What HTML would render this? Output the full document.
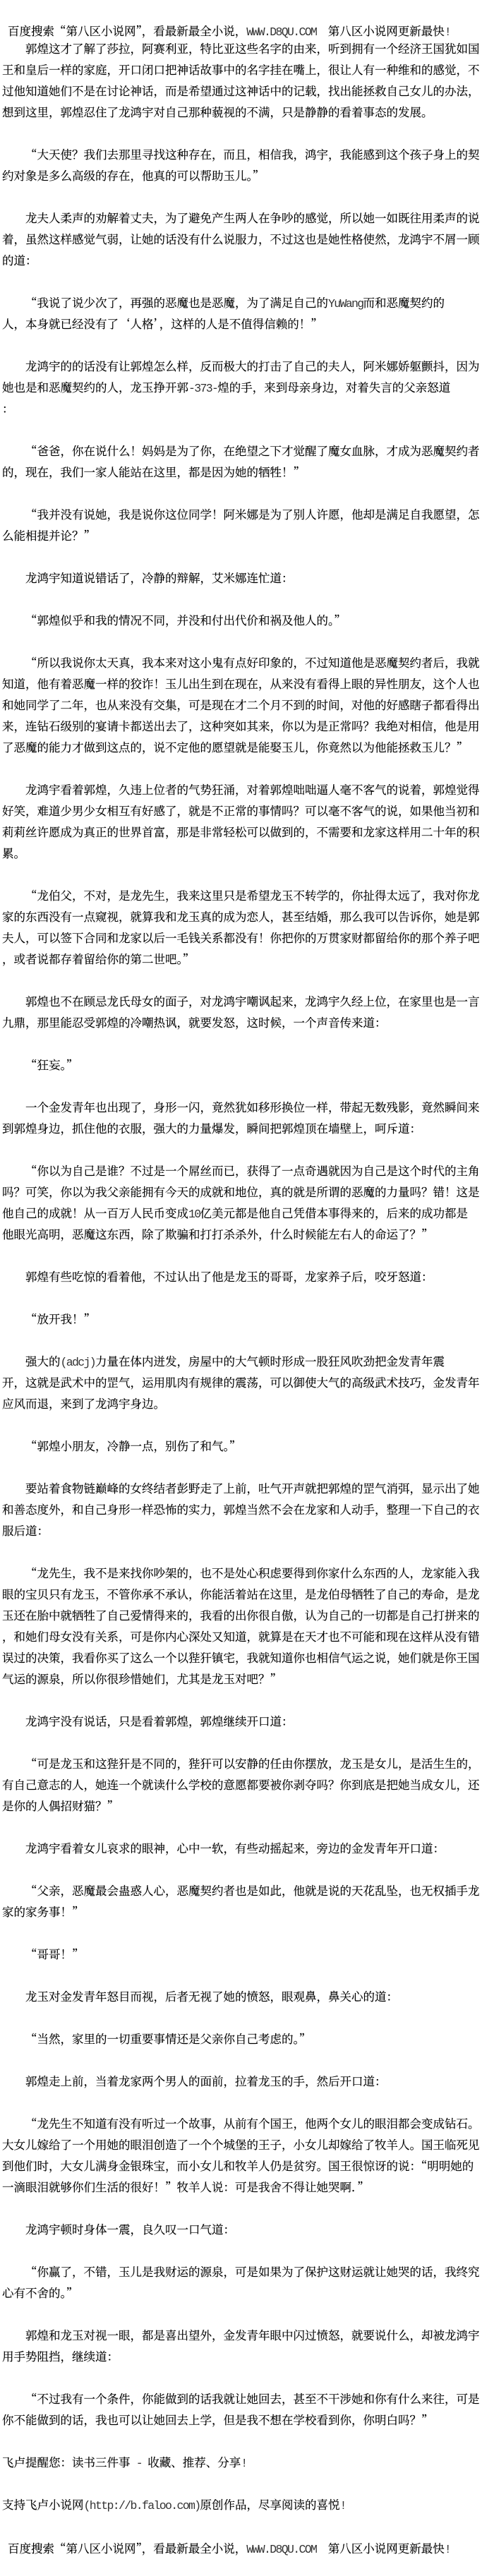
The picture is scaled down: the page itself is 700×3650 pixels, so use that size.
<!DOCTYPE html>
<html lang="zh-CN">
<head>
<meta charset="utf-8">
<title>第八区小说网</title>
<style>
html,body{margin:0;padding:0;background:#fff;}
body{position:relative;width:700px;height:3650px;overflow:hidden;color:#000;
font-family:"Noto Serif CJK SC","Noto Sans CJK SC",serif;font-size:16.5px;line-height:30px;-webkit-text-stroke:0.15px #000;}
#t{position:absolute;left:3px;top:53px;width:697px;}
#t div{height:30px;white-space:pre;}
#t .i{padding-left:33px;}
.h{position:absolute;left:11px;height:30px;white-space:pre;}
.l{font-family:"Liberation Mono",monospace;letter-spacing:-1.65px;color:#333;-webkit-text-stroke:0;}
</style>
</head>
<body>
<div class="h" style="top:28px">百度搜索“第八区小说网”，看最新最全小说，<span class="l">WWW.D8QU.COM  </span>第八区小说网更新最快<span class="l">!</span></div>
<div id="t">
<div class="i">郭煌这才了解了莎拉，阿赛利亚，特比亚这些名字的由来，听到拥有一个经济王国犹如国</div>
<div>王和皇后一样的家庭，开口闭口把神话故事中的名字挂在嘴上，很让人有一种维和的感觉，不</div>
<div>过他知道她们不是在讨论神话，而是希望通过这神话中的记载，找出能拯救自己女儿的办法，</div>
<div>想到这里，郭煌忍住了龙鸿宇对自己那种藐视的不满，只是静静的看着事态的发展。</div>
<div></div>
<div class="i">“大天使？我们去那里寻找这种存在，而且，相信我，鸿宇，我能感到这个孩子身上的契</div>
<div>约对象是多么高级的存在，他真的可以帮助玉儿。”</div>
<div></div>
<div class="i">龙夫人柔声的劝解着丈夫，为了避免产生两人在争吵的感觉，所以她一如既往用柔声的说</div>
<div>着，虽然这样感觉气弱，让她的话没有什么说服力，不过这也是她性格使然，龙鸿宇不屑一顾</div>
<div>的道：</div>
<div></div>
<div class="i">“我说了说少次了，再强的恶魔也是恶魔，为了满足自己的<span class="l">YuWang</span>而和恶魔契约的</div>
<div>人，本身就已经没有了‘人格’，这样的人是不值得信赖的！”</div>
<div></div>
<div class="i">龙鸿宇的的话没有让郭煌怎么样，反而极大的打击了自己的夫人，阿米娜娇躯颤抖，因为</div>
<div>她也是和恶魔契约的人，龙玉挣开郭<span class="l">-373-</span>煌的手，来到母亲身边，对着失言的父亲怒道</div>
<div>：</div>
<div></div>
<div class="i">“爸爸，你在说什么！妈妈是为了你，在绝望之下才觉醒了魔女血脉，才成为恶魔契约者</div>
<div>的，现在，我们一家人能站在这里，都是因为她的牺牲！”</div>
<div></div>
<div class="i">“我并没有说她，我是说你这位同学！阿米娜是为了别人许愿，他却是满足自我愿望，怎</div>
<div>么能相提并论？”</div>
<div></div>
<div class="i">龙鸿宇知道说错话了，冷静的辩解，艾米娜连忙道：</div>
<div></div>
<div class="i">“郭煌似乎和我的情况不同，并没和付出代价和祸及他人的。”</div>
<div></div>
<div class="i">“所以我说你太天真，我本来对这小鬼有点好印象的，不过知道他是恶魔契约者后，我就</div>
<div>知道，他有着恶魔一样的狡诈！玉儿出生到在现在，从来没有看得上眼的异性朋友，这个人也</div>
<div>和她同学了二年，也从来没有交集，可是现在才二个月不到的时间，对他的好感瞎子都看得出</div>
<div>来，连钻石级别的宴请卡都送出去了，这种突如其来，你以为是正常吗？我绝对相信，他是用</div>
<div>了恶魔的能力才做到这点的，说不定他的愿望就是能娶玉儿，你竟然以为他能拯救玉儿？”</div>
<div></div>
<div class="i">龙鸿宇看着郭煌，久违上位者的气势狂涌，对着郭煌咄咄逼人毫不客气的说着，郭煌觉得</div>
<div>好笑，难道少男少女相互有好感了，就是不正常的事情吗？可以毫不客气的说，如果他当初和</div>
<div>莉莉丝许愿成为真正的世界首富，那是非常轻松可以做到的，不需要和龙家这样用二十年的积</div>
<div>累。</div>
<div></div>
<div class="i">“龙伯父，不对，是龙先生，我来这里只是希望龙玉不转学的，你扯得太远了，我对你龙</div>
<div>家的东西没有一点窥视，就算我和龙玉真的成为恋人，甚至结婚，那么我可以告诉你，她是郭</div>
<div>夫人，可以签下合同和龙家以后一毛钱关系都没有！你把你的万贯家财都留给你的那个养子吧</div>
<div>，或者说都存着留给你的第二世吧。”</div>
<div></div>
<div class="i">郭煌也不在顾忌龙氏母女的面子，对龙鸿宇嘲讽起来，龙鸿宇久经上位，在家里也是一言</div>
<div>九鼎，那里能忍受郭煌的冷嘲热讽，就要发怒，这时候，一个声音传来道：</div>
<div></div>
<div class="i">“狂妄。”</div>
<div></div>
<div class="i">一个金发青年也出现了，身形一闪，竟然犹如移形换位一样，带起无数残影，竟然瞬间来</div>
<div>到郭煌身边，抓住他的衣服，强大的力量爆发，瞬间把郭煌顶在墙壁上，呵斥道：</div>
<div></div>
<div class="i">“你以为自己是谁？不过是一个屌丝而已，获得了一点奇遇就因为自己是这个时代的主角</div>
<div>吗？可笑，你以为我父亲能拥有今天的成就和地位，真的就是所谓的恶魔的力量吗？错！这是</div>
<div>他自己的成就！从一百万人民币变成<span class="l">10</span>亿美元都是他自己凭借本事得来的，后来的成功都是</div>
<div>他眼光高明，恶魔这东西，除了欺骗和打打杀杀外，什么时候能左右人的命运了？”</div>
<div></div>
<div class="i">郭煌有些吃惊的看着他，不过认出了他是龙玉的哥哥，龙家养子后，咬牙怒道：</div>
<div></div>
<div class="i">“放开我！”</div>
<div></div>
<div class="i">强大的<span class="l">(adcj)</span>力量在体内迸发，房屋中的大气顿时形成一股狂风吹劲把金发青年震</div>
<div>开，这就是武术中的罡气，运用肌肉有规律的震荡，可以御使大气的高级武术技巧，金发青年</div>
<div>应风而退，来到了龙鸿宇身边。</div>
<div></div>
<div class="i">“郭煌小朋友，冷静一点，别伤了和气。”</div>
<div></div>
<div class="i">要站着食物链巅峰的女终结者彭野走了上前，吐气开声就把郭煌的罡气消弭，显示出了她</div>
<div>和善态度外，和自己身形一样恐怖的实力，郭煌当然不会在龙家和人动手，整理一下自己的衣</div>
<div>服后道：</div>
<div></div>
<div class="i">“龙先生，我不是来找你吵架的，也不是处心积虑要得到你家什么东西的人，龙家能入我</div>
<div>眼的宝贝只有龙玉，不管你承不承认，你能活着站在这里，是龙伯母牺牲了自己的寿命，是龙</div>
<div>玉还在胎中就牺牲了自己爱情得来的，我看的出你很自傲，认为自己的一切都是自己打拼来的</div>
<div>，和她们母女没有关系，可是你内心深处又知道，就算是在天才也不可能和现在这样从没有错</div>
<div>误过的决策，我看你买了这么一个以狴犴镇宅，我就知道你也相信气运之说，她们就是你王国</div>
<div>气运的源泉，所以你很珍惜她们，尤其是龙玉对吧？”</div>
<div></div>
<div class="i">龙鸿宇没有说话，只是看着郭煌，郭煌继续开口道：</div>
<div></div>
<div class="i">“可是龙玉和这狴犴是不同的，狴犴可以安静的任由你摆放，龙玉是女儿，是活生生的，</div>
<div>有自己意志的人，她连一个就读什么学校的意愿都要被你剥夺吗？你到底是把她当成女儿，还</div>
<div>是你的人偶招财猫？”</div>
<div></div>
<div class="i">龙鸿宇看着女儿哀求的眼神，心中一软，有些动摇起来，旁边的金发青年开口道：</div>
<div></div>
<div class="i">“父亲，恶魔最会蛊惑人心，恶魔契约者也是如此，他就是说的天花乱坠，也无权插手龙</div>
<div>家的家务事！”</div>
<div></div>
<div class="i">“哥哥！”</div>
<div></div>
<div class="i">龙玉对金发青年怒目而视，后者无视了她的愤怒，眼观鼻，鼻关心的道：</div>
<div></div>
<div class="i">“当然，家里的一切重要事情还是父亲你自己考虑的。”</div>
<div></div>
<div class="i">郭煌走上前，当着龙家两个男人的面前，拉着龙玉的手，然后开口道：</div>
<div></div>
<div class="i">“龙先生不知道有没有听过一个故事，从前有个国王，他两个女儿的眼泪都会变成钻石。</div>
<div>大女儿嫁给了一个用她的眼泪创造了一个个城堡的王子，小女儿却嫁给了牧羊人。国王临死见</div>
<div>到他们时，大女儿满身金银珠宝，而小女儿和牧羊人仍是贫穷。国王很惊讶的说：“明明她的</div>
<div>一滴眼泪就够你们生活的很好！”牧羊人说：可是我舍不得让她哭啊．”</div>
<div></div>
<div class="i">龙鸿宇顿时身体一震，良久叹一口气道：</div>
<div></div>
<div class="i">“你赢了，不错，玉儿是我财运的源泉，可是如果为了保护这财运就让她哭的话，我终究</div>
<div>心有不舍的。”</div>
<div></div>
<div class="i">郭煌和龙玉对视一眼，都是喜出望外，金发青年眼中闪过愤怒，就要说什么，却被龙鸿宇</div>
<div>用手势阻挡，继续道：</div>
<div></div>
<div class="i">“不过我有一个条件，你能做到的话我就让她回去，甚至不干涉她和你有什么来往，可是</div>
<div>你不能做到的话，我也可以让她回去上学，但是我不想在学校看到你，你明白吗？”</div>
<div></div>
<div>飞卢提醒您：读书三件事<span class="l"> - </span>收藏、推荐、分享<span class="l">!</span></div>
<div></div>
<div>支持飞卢小说网<span class="l">(http://b.faloo.com)</span>原创作品，尽享阅读的喜悦<span class="l">!</span></div>
</div>
<div class="h" style="top:3595px">百度搜索“第八区小说网”，看最新最全小说，<span class="l">WWW.D8QU.COM  </span>第八区小说网更新最快<span class="l">!</span></div>
</body>
</html>
